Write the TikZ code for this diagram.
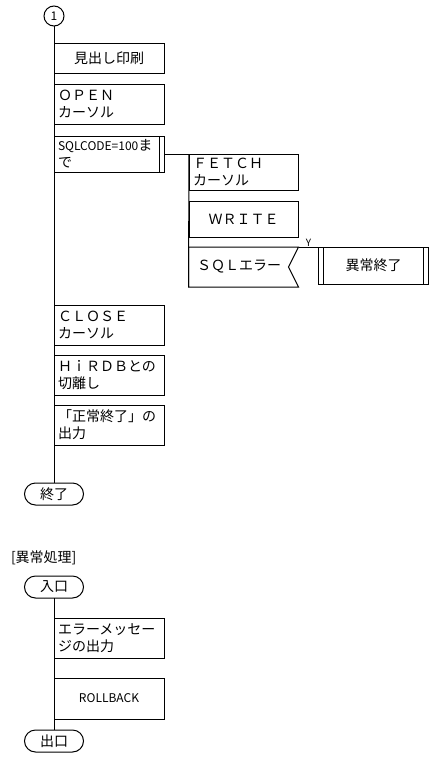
\documentclass[tikz,border=0pt]{standalone}
\usepackage{fontspec}
\setmainfont{Noto Sans CJK JP}
\usetikzlibrary{positioning}

\begin{document}
\begin{tikzpicture}[x=1pt, y=-1pt, line width=1pt, font=\fontsize{14}{17}\selectfont,
  every node/.append style={outer sep=0pt},
  proc/.style={rectangle, draw, minimum width=110pt, minimum height=40pt,
    text width=102pt, inner xsep=4pt, inner ysep=0pt, align=left},
  term/.style={rectangle, draw, rounded corners=11pt, minimum width=59pt,
    minimum height=22pt, inner sep=0pt},
  small/.style={font=\fontsize{12}{17}\selectfont}]

\path[use as bounding box, fill=white] (0,0) rectangle (431,758);

\node[circle, draw, minimum size=20pt, inner sep=0pt, small] (c1) at (54,16) {1};
\node[proc, minimum height=30pt, align=center, anchor=north west] (head) at (54,43) {見出し印刷};
\node[proc] (open) [below=11pt of head] {ＯＰＥＮ\\カーソル};
\node[proc, minimum height=36pt] (loop) [below=12pt of open] {{\fontsize{12}{17}\selectfont SQLCODE=100}ま\\で};
\node[proc, minimum width=109pt, text width=101pt, minimum height=36pt, anchor=north west] (fetch) at ([xshift=25pt]loop.east) {ＦＥＴＣＨ\\カーソル};
\node[proc, minimum width=109pt, text width=101pt, minimum height=36pt, align=center] (write) [below=11pt of fetch] {ＷＲＩＴＥ};
\node[proc, draw=none, text width=93pt, inner xsep=8pt] (err) [below=10pt of write] {ＳＱＬエラー};
\node[proc, minimum height=37pt, align=center, anchor=north west] (abn) at ([xshift=20pt]err.north east) {異常終了};
\node[proc] (close) [below=133pt of loop] {ＣＬＯＳＥ\\カーソル};
\node[proc] (discon) [below=10pt of close] {ＨｉＲＤＢとの\\切離し};
\node[proc] (msg) [below=10pt of discon] {「正常終了」の\\出力};
\node[term] (fin) [below=38pt of msg.south west] {終了};

\node[anchor=west, inner sep=0pt] (title) at (11,558) {[異常処理]};
\node[term] (entry) at (54,587) {入口};
\node[proc] (errmsg) [below right=20pt and 0pt of entry.south] {エラーメッセー\\ジの出力};
\node[proc, minimum height=41pt, align=center] (rollback) [below=20pt of errmsg] {\fontsize{12}{17}\selectfont ROLLBACK};
\node[term] (exit) [below=11pt of rollback.south west] {出口};

\draw ([xshift=-5pt]loop.north east) -- ([xshift=-5pt]loop.south east);
\draw ([xshift=5pt]abn.north west) -- ([xshift=5pt]abn.south west);
\draw ([xshift=-5pt]abn.north east) -- ([xshift=-5pt]abn.south east);
\draw (err.north west) -- (err.north east) -- ([xshift=-10pt]err.east)
  -- (err.south east) -- (err.south west) -- cycle;

\path[line width=1pt]
(c1) edge (fin)
(loop.east) edge (fetch.north west)
(fetch.north west) edge (err.south west)
(err.north east) edge node[above, inner sep=1pt, font=\fontsize{10}{12}\selectfont] {Y} (abn.north west)
(entry) edge (exit)
;

\end{tikzpicture}
\end{document}
